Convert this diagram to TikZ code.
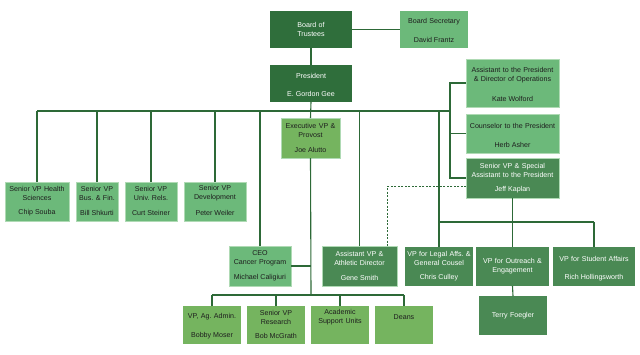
\documentclass[tikz,border=0pt]{standalone}
\usepackage{fontspec}
\setmainfont{Liberation Sans}
\frenchspacing
\definecolor{darkg}{RGB}{47,110,59}
\definecolor{medg}{RGB}{74,137,84}
\definecolor{lightg}{RGB}{108,185,122}
\definecolor{yelg}{RGB}{117,180,95}
\definecolor{lineg}{RGB}{45,105,55}
\definecolor{bordg}{RGB}{175,218,180}
\definecolor{txtd}{RGB}{30,30,30}
\tikzset{
  boxbase/.style={rectangle, inner sep=0pt, outer sep=0pt},
  dk box/.style={boxbase, fill=darkg},
  md box/.style={boxbase, fill=medg},
  mdb box/.style={boxbase, fill=medg, draw=bordg, line width=0.6pt},
  lt box/.style={boxbase, fill=lightg, draw=bordg, line width=0.6pt},
  lt0 box/.style={boxbase, fill=lightg},
  yg box/.style={boxbase, fill=yelg},
  ygb box/.style={boxbase, fill=yelg, draw=bordg, line width=0.6pt},
  txtbase/.style={inner sep=0pt, align=center, font=\fontsize{7.1}{9}\selectfont\frenchspacing},
  dk text/.style={txtbase, text=white},
  md text/.style={txtbase, text=white},
  mdb text/.style={txtbase, text=white},
  lt text/.style={txtbase, text=txtd},
  lt0 text/.style={txtbase, text=txtd},
  yg text/.style={txtbase, text=txtd},
  ygb text/.style={txtbase, text=txtd},
  conn/.style={draw=lineg, line width=1.1pt},
}
% #1 name, #2 x1, #3 y1, #4 x2, #5 y2, #6 style, #7 title
\newcommand\obox[6]{%
  \node[#6 box, minimum width={(#4-#2)*1pt}, minimum height={(#5-#3)*1pt}] (#1) at ({(#2+#4)/2},{(#3+#5)/2}) {};}
\newcommand\obc[7]{\obox{#1}{#2}{#3}{#4}{#5}{#6}%
  \node[#6 text, text width={(#4-#2-2)*1pt}] (#1-t) at ({(#2+#4)/2},{(#3+#5)/2}) {#7};}
\newcommand\obt[7]{\obox{#1}{#2}{#3}{#4}{#5}{#6}%
  \node[#6 text, text width={(#4-#2-2)*1pt}] (#1-t) at ({(#2+#4)/2},{(#3+#5-16)/2}) {#7};}
\newcommand\obn[8]{\obt{#1}{#2}{#3}{#4}{#5}{#6}{#7}%
  \node[#6 text] (#1-n) at ({(#2+#4)/2},{#5-8}) {#8};}
\begin{document}
\begin{tikzpicture}[x=1pt,y=-1pt]
\fill[white] (0,0) rectangle (640,354);
\useasboundingbox (0,0) rectangle (640,354);
% boxes
\obc{board}{270}{11}{352}{48}{dk}{Board of\\Trustees}
\obn{sec}{400}{11}{468}{48}{lt0}{Board Secretary}{David Frantz}
\obn{pres}{270}{65}{352}{102}{dk}{President}{E. Gordon Gee}
\obn{asst}{466}{59}{559}{107}{lt}{Assistant to the President\\\& Director of Operations}{Kate Wolford}
\obn{couns}{466}{114}{559}{153}{lt}{Counselor to the President}{Herb Asher}
\obn{spec}{466}{158}{559}{198}{mdb}{Senior VP \& Special\\Assistant to the President}{Jeff Kaplan}
\obn{prov}{281}{118}{340}{158}{ygb}{Executive VP \&\\Provost}{Joe Alutto}
\obn{health}{5}{182}{69}{221}{lt}{Senior VP Health\\Sciences}{Chip Souba}
\obn{busfin}{76}{182}{118}{221}{lt}{Senior VP\\Bus. \& Fin.}{Bill Shkurti}
\obn{univ}{125}{182}{177}{221}{lt}{Senior VP\\Univ. Rels.}{Curt Steiner}
\obn{dev}{184}{182}{246}{221}{lt}{Senior VP\\Development}{Peter Weiler}
\obn{ceo}{229}{246}{291}{286}{lt}{CEO\\Cancer Program}{Michael Caligiuri}
\obn{athl}{322}{246}{397}{286}{mdb}{Assistant VP \&\\Athletic Director}{Gene Smith}
\obn{legal}{405}{247}{473}{286}{md}{VP for Legal Affs. \&\\General Cousel}{Chris Culley}
\obc{outr}{476}{247}{549}{286}{md}{VP for Outreach \&\\Engagement}
\obn{stud}{553}{247}{635}{286}{md}{VP for Student Affairs}{Rich Hollingsworth}
\obc{terry}{479}{296}{547}{335}{md}{Terry Foegler}
\obn{ag}{183}{306}{241}{344}{yg}{VP, Ag. Admin.}{Bobby Moser}
\obn{res}{247}{306}{305}{344}{yg}{Senior VP\\Research}{Bob McGrath}
\obt{acad}{311}{306}{369}{344}{yg}{Academic\\Support Units}
\obt{deans}{375}{306}{433}{344}{yg}{Deans}
% bus coordinates
\coordinate (busL) at (37,111);
\coordinate (busR) at (450,111);
\coordinate (jbus) at (512,222);
\coordinate (pbus) at (311,295);
% connectors
\draw[conn] (board.east) -- (sec.west);
\draw[conn] (board.south) -- (pres.north);
\draw[conn] (pres.south) -- (prov.north);
\draw[conn] (busL) -- (busR);
\foreach \b in {health,busfin,univ,dev,ceo,athl,legal}
  \draw[conn] (\b.north) -- (\b.north |- busL);
\draw[conn] (asst.west) -- (asst.west -| busR) -- (spec.west -| busR) -- (spec.west);
\draw[conn] (couns.west) -- (couns.west -| busR);
\draw[conn, dashed, line width=0.9pt, dash pattern=on 2pt off 1.5pt] ([yshift=-8pt]spec.west) -| ([xshift=28pt]athl.north);
\draw[conn] (spec.south) -- (outr.north);
\draw[conn] (legal.north |- jbus) -- (stud.north |- jbus);
\draw[conn] (stud.north) -- (stud.north |- jbus);
\draw[conn] (outr.south) -- (terry.north);
\draw[conn] (prov.south) -- (pbus);
\draw[conn] (ceo.east) -- (ceo.east -| pbus);
\draw[conn] (ag.north |- pbus) -- (deans.north |- pbus);
\foreach \b in {ag,res,acad,deans}
  \draw[conn] (\b.north) -- (\b.north |- pbus);
\end{tikzpicture}
\end{document}
